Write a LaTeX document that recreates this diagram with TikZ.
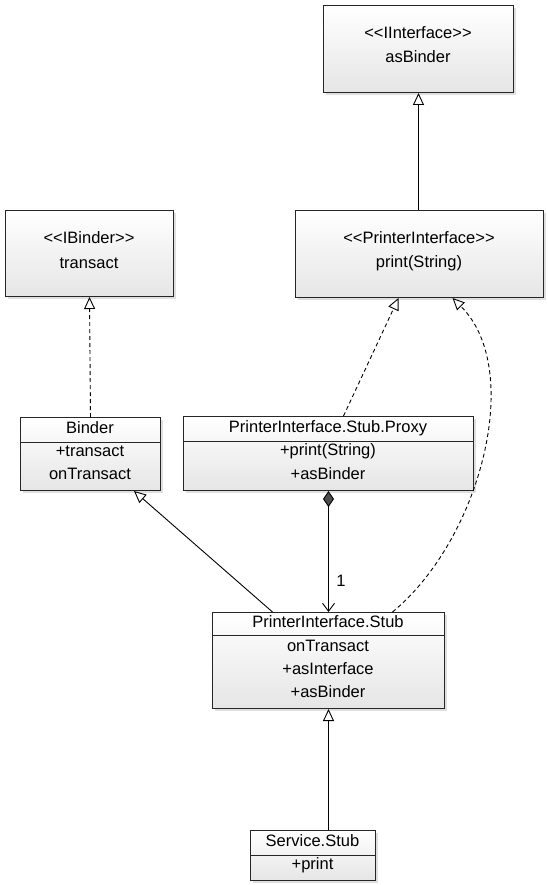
\documentclass[tikz,border=0pt]{standalone}
\usepackage{fontspec}
\newfontfamily\umlfont{Liberation Sans}
\usetikzlibrary{arrows.meta,shadows}
\tikzset{
  box/.style={draw=black!85, line width=1pt, top color=white, bottom color=black!10,
    drop shadow={shadow xshift=2.5pt,shadow yshift=-2.5pt,opacity=0.25},
    anchor=north west, inner sep=0pt},
  txt/.style={font=\umlfont\fontsize{16.5}{18}\selectfont, inner sep=0pt},
  sep/.style={line width=1pt, draw=black!85},
  gen/.style={-{Triangle[open,length=12pt,width=11pt]}, line width=0.9pt},
  real/.style={gen, dashed, dash pattern=on 4pt off 3pt},
  comp/.style={{Diamond[fill=black!70,length=16pt,width=11pt]}-{Straight Barb[length=8pt,width=12pt]}, line width=0.9pt},
}
\begin{document}
\begin{tikzpicture}[x=1pt,y=-1pt]
\useasboundingbox (0,0) rectangle (548,885);

% interface boxes
\node[box, minimum width=190pt, minimum height=87pt] (iint) at (323,5) {};
\node[txt] (iintA) at (418,33) {<<IInterface>>};
\node[txt] (iintB) at (418,57) {asBinder};

\node[box, minimum width=168pt, minimum height=86pt] (ibind) at (5,210) {};
\node[txt] (ibindA) at (89,238) {<<IBinder>>};
\node[txt] (ibindB) at (89,263) {transact};

\node[box, minimum width=248pt, minimum height=87pt] (pint) at (295,210) {};
\node[txt] (pintA) at (419,238) {<<PrinterInterface>>};
\node[txt] (pintB) at (419,263) {print(String)};

% class boxes
\node[box, minimum width=140pt, minimum height=73pt] (binder) at (20,417) {};
\draw[sep] ([yshift=-25pt]binder.north west) -- ([yshift=-25pt]binder.north east);
\node[txt] (binderT) at (90,428) {Binder};
\node[txt] (binderA) at (90,451) {+transact};
\node[txt] (binderB) at (90,474) {onTransact};

\node[box, minimum width=290pt, minimum height=74pt] (proxy) at (183,416) {};
\draw[sep] ([yshift=-25pt]proxy.north west) -- ([yshift=-25pt]proxy.north east);
\node[txt] (proxyT) at (328,428) {PrinterInterface.Stub.Proxy};
\node[txt] (proxyA) at (328,451) {+print(String)};
\node[txt] (proxyB) at (328,474) {+asBinder};

\node[box, minimum width=232pt, minimum height=96pt] (stub) at (212,612) {};
\draw[sep] ([yshift=-23pt]stub.north west) -- ([yshift=-23pt]stub.north east);
\node[txt] (stubT) at (328,622) {PrinterInterface.Stub};
\node[txt] (stubA) at (328,646) {onTransact};
\node[txt] (stubB) at (328,669) {+asInterface};
\node[txt] (stubC) at (328,692) {+asBinder};

\node[box, minimum width=125pt, minimum height=50pt] (svc) at (250,830) {};
\draw[sep] ([yshift=-25pt]svc.north west) -- ([yshift=-25pt]svc.north east);
\node[txt] (svcT) at (312.5,841) {Service.Stub};
\node[txt] (svcA) at (312.5,865) {+print};

% connectors
\draw[gen] (iint.south |- pint.north) -- (iint.south);
\draw[real] (binder.north) -- (ibind.south);
\draw[real] ([xshift=15pt]proxy.north) -- ([xshift=-21pt]pint.south);
\draw[real] ([xshift=64pt]stub.north) .. controls (480,540) and (525,370) .. ([xshift=33pt]pint.south);
\draw[gen] ([xshift=-56pt]stub.north) -- ([xshift=-27pt]binder.south east);
\draw[comp] (stub.north |- proxy.south) -- (stub.north);
\node[txt] (mult) at (341,581) {1};
\draw[gen] (stub.south |- svc.north) -- (stub.south);
\end{tikzpicture}
\end{document}
